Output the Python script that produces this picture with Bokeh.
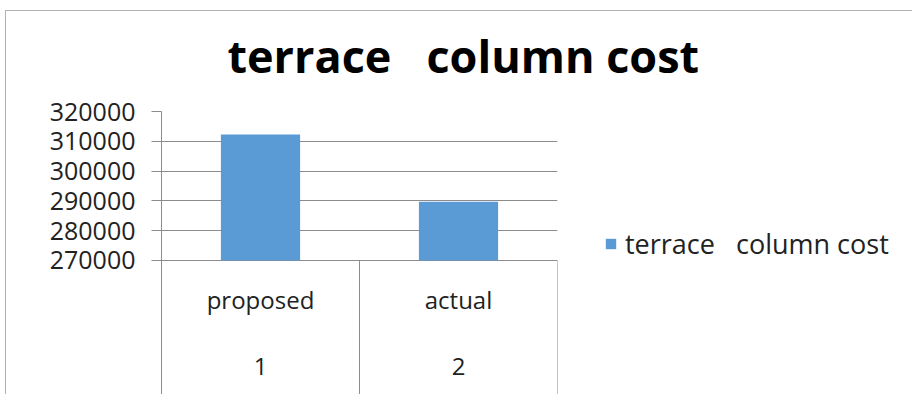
from bokeh.plotting import figure
from bokeh.models import FactorRange, Range1d, FixedTicker, Legend, LegendItem, Title, BasicTickFormatter
from bokeh.embed import file_html
from bokeh.resources import INLINE
from bokeh.core.properties import value

# ---- data ----
categories = ["proposed", "actual"]
group_labels = ["1", "2"]
costs = [312300, 289700]
series_name = "terrace   column cost"
y_ticks = [270000, 280000, 290000, 300000, 310000, 320000]
y_floor = 270000

BAR = "#5B9BD5"
GRID = "#8c8c8c"
EDGE = "#b0b0b0"
FONT = "Open Sans"

p = figure(
    x_range=FactorRange(factors=categories),
    y_range=Range1d(225000, 320000),
    frame_width=396, frame_height=283,
    min_border_left=156, min_border_top=99, min_border_bottom=0, min_border_right=354,
    x_axis_location=None,
    output_backend="svg", toolbar_location=None,
    background_fill_color="white", border_fill_alpha=0,
    styles={"margin-left": "5px", "margin-top": "-4px",
            "background": (f"linear-gradient({EDGE},{EDGE}) 0 14px / 100% 1px no-repeat, "
                           f"linear-gradient({EDGE},{EDGE}) 0 14px / 1px 100% no-repeat, white")},
)
p.outline_line_color = None

p.title = Title(text=series_name.replace(" ", "\u00a0"), align="left", text_font=FONT,
                text_font_size="45px", text_font_style="bold",
                text_color="#000000", offset=66, standoff=52)

r = p.vbar(x=categories, top=costs, bottom=y_floor, width=0.4,
           fill_color=BAR, line_color=None)

# category box separators below the value axis
p.segment(x0=[1, 2], x1=[1, 2], y0=[y_floor, y_floor], y1=[p.y_range.start] * 2,
          line_color=GRID, line_width=1)

# category labels (two levels)
p.text(x=categories, y=[y_floor] * len(categories), text=categories,
       y_offset=39, text_align="center", text_baseline="middle",
       text_font=value(FONT), text_font_size="24px", text_color="#222222")
p.text(x=categories, y=[y_floor] * len(categories), text=group_labels,
       y_offset=106, text_align="center", text_baseline="middle",
       text_font=value(FONT), text_font_size="24px", text_color="#222222")

ax = p.yaxis[0]
ax.ticker = FixedTicker(ticks=y_ticks)
ax.formatter = BasicTickFormatter(use_scientific=False)
ax.axis_line_color = GRID
ax.major_tick_line_color = GRID
ax.major_tick_out = 10
ax.major_tick_in = 0
ax.minor_tick_line_color = None
ax.major_label_standoff = 16
ax.major_label_text_font = FONT
ax.major_label_text_font_size = "25px"
ax.major_label_text_color = "#222222"

p.xgrid.visible = False
p.ygrid.ticker = FixedTicker(ticks=y_ticks)
p.ygrid.grid_line_color = GRID

legend = Legend(items=[LegendItem(label=series_name, renderers=[r])],
                location=(47, 132), margin=0, padding=10,
                glyph_width=13, glyph_height=13, label_standoff=8,
                label_text_font=FONT, label_text_font_size="27px",
                label_text_color="#222222",
                border_line_color=None, background_fill_alpha=0)
p.add_layout(legend, "right")

open("out.html", "w").write(file_html(p, INLINE))
